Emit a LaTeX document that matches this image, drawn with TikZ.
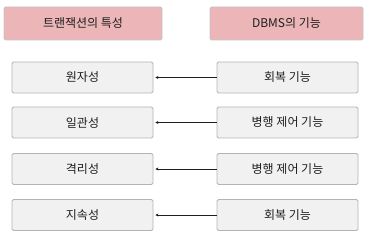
\documentclass[tikz,border=0pt]{standalone}
\usepackage{fontspec}
\setmainfont{Noto Sans CJK KR}
\definecolor{headpink}{RGB}{236, 182, 184}
\definecolor{headline}{RGB}{195, 195, 195}
\definecolor{boxgray}{RGB}{241, 241, 241}
\definecolor{boxline}{RGB}{180, 180, 180}
\definecolor{txtgray}{RGB}{30, 30, 30}
\usetikzlibrary{arrows.meta, positioning}
\tikzset{
    headbox/.style={draw=headline, fill=headpink, rectangle, rounded corners=1.5pt, minimum height=33pt, inner sep=0pt, font=\fontsize{12}{14}\selectfont, text=txtgray, line width=0.9pt},
    propbox/.style={draw=boxline, fill=boxgray, rectangle, rounded corners=1.5pt, minimum width=141pt, minimum height=31pt, inner sep=0pt, font=\fontsize{12}{14}\selectfont, text=txtgray, line width=0.9pt},
    funcarrow/.style={-{Stealth[length=3pt, width=3pt]}, draw=txtgray, line width=0.6pt, shorten >=2pt},
}
\begin{document}
\begin{tikzpicture}[x=1pt, y=-1pt]
    \useasboundingbox (0,0) rectangle (369,240);
    % headers
    \node[headbox, minimum width=158pt] (txhead) at (83,23.5) {트랜잭션의 특성};
    \node[headbox, minimum width=153pt] (dbhead) at (286.5,23.5) {DBMS의 기능};

    % properties (left) and functions (right)
    \node[propbox] (atom) at (82.5,77.5) {원자성};
    \node[propbox] (cons) at (82.5,122.5) {일관성};
    \node[propbox] (isol) at (82.5,169) {격리성};
    \node[propbox] (dura) at (82.5,215) {지속성};

    \node[propbox] (rec1) at (287.5,77.5) {회복 기능};
    \node[propbox] (conc1) at (287.5,122.5) {병행 제어 기능};
    \node[propbox] (conc2) at (287.5,169) {병행 제어 기능};
    \node[propbox] (rec2) at (287.5,215) {회복 기능};

    \draw[funcarrow] (rec1) -- (atom);
    \draw[funcarrow] (conc1) -- (cons);
    \draw[funcarrow] (conc2) -- (isol);
    \draw[funcarrow] (rec2) -- (dura);
\end{tikzpicture}
\end{document}
